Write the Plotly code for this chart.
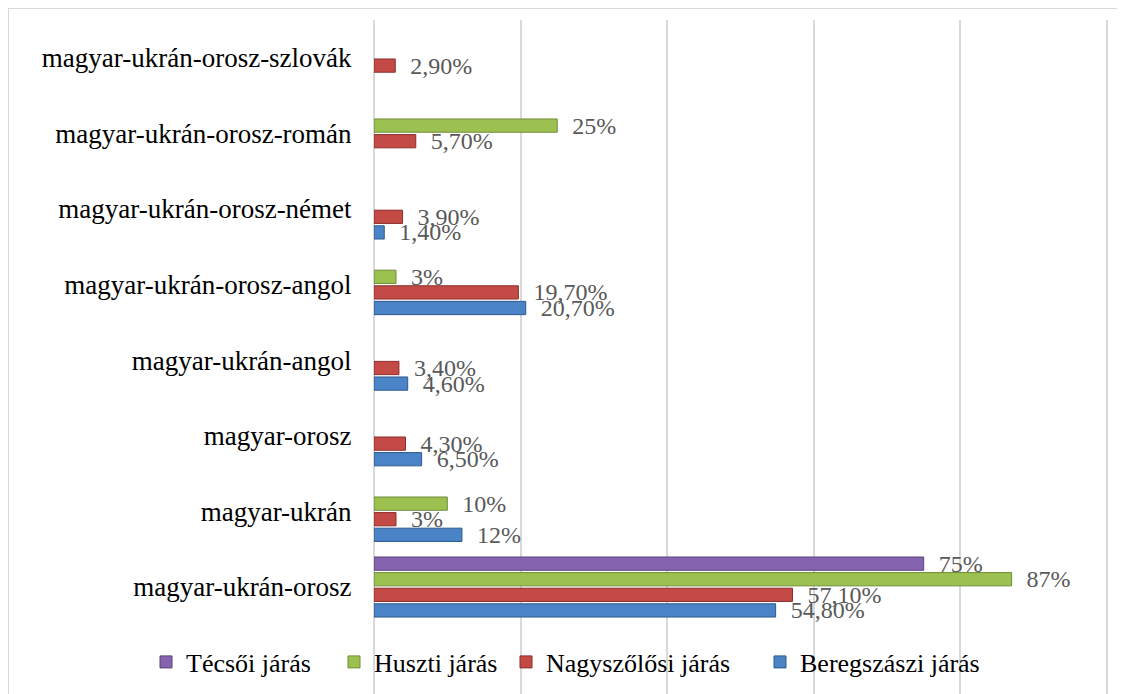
import plotly.graph_objects as go

# ---- data ----
categories = [
    "magyar-ukrán-orosz",
    "magyar-ukrán",
    "magyar-orosz",
    "magyar-ukrán-angol",
    "magyar-ukrán-orosz-angol",
    "magyar-ukrán-orosz-német",
    "magyar-ukrán-orosz-román",
    "magyar-ukrán-orosz-szlovák",
]
beregszaszi = [54.8, 12, 6.5, 4.6, 20.7, 1.4, None, None]
nagyszolosi = [57.1, 3, 4.3, 3.4, 19.7, 3.9, 5.7, 2.9]
huszti = [87, 10, None, None, 3, None, 25, None]
tecsoi = [75, None, None, None, None, None, None, None]

series_names = ["Beregszászi járás", "Nagyszőlősi járás", "Huszti járás", "Técsői járás"]
series_values = [beregszaszi, nagyszolosi, huszti, tecsoi]
series_colors = ["#4A83C6", "#C44A46", "#9DC150", "#8563AE"]
series_lines = ["#2c5a8f", "#8c2e2b", "#6f8c36", "#5a4378"]
series_legends = ["legend4", "legend3", "legend2", "legend"]


def fmt(v):
    if v is None:
        return ""
    if float(v).is_integer():
        return f"{int(v)}%"
    return f"{v:.2f}%".replace(".", ",")


FONT = "Liberation Serif, Times New Roman, serif"
PAD = "\u00a0\u00a0"

fig = go.Figure()
for name, vals, col, lc, lg in zip(series_names, series_values, series_colors,
                                   series_lines, series_legends):
    fig.add_trace(go.Bar(
        y=categories,
        x=vals,
        name=name,
        legend=lg,
        orientation="h",
        marker=dict(color=col, line=dict(color=lc, width=1)),
        text=[PAD + fmt(v) if v is not None else "" for v in vals],
        textposition="outside",
        textfont=dict(family=FONT, size=24, color="#595959"),
        constraintext="none",
        cliponaxis=False,
    ))

W, H = 1117, 686
ML, MR, MT, MB = 366, 17, 12, 0
pw, ph = W - ML - MR, H - MT - MB


def legend_at(text_x_px):
    return dict(
        orientation="h",
        xref="container",
        yref="container",
        x=(text_x_px - 8 - 40) / W,
        xanchor="left",
        y=1 - (662 - 8) / H,
        yanchor="middle",
        bgcolor="rgba(0,0,0,0)",
        font=dict(family=FONT, size=26, color="#000000"),
        itemwidth=30,
    )


fig.update_layout(
    width=W,
    height=H,
    margin=dict(l=ML, r=MR, t=MT, b=MB, autoexpand=False),
    paper_bgcolor="white",
    plot_bgcolor="white",
    barmode="group",
    bargap=0.175,
    bargroupgap=0.15,
    font=dict(family=FONT, size=27, color="#000000"),
    legend=legend_at(186),
    legend2=legend_at(374),
    legend3=legend_at(546),
    legend4=legend_at(800),
    xaxis=dict(
        range=[0, 100.15],
        dtick=20,
        showgrid=True,
        gridcolor="#d9d9d9",
        gridwidth=2,
        zeroline=True,
        zerolinecolor="#d9d9d9",
        zerolinewidth=2,
        showticklabels=False,
        showline=False,
        ticks="",
    ),
    yaxis=dict(
        type="category",
        categoryorder="array",
        categoryarray=categories,
        range=[-1.415, 7.5],
        showgrid=False,
        zeroline=False,
        showline=False,
        ticks="outside",
        ticklen=16,
        tickcolor="rgba(0,0,0,0)",
        tickfont=dict(family=FONT, size=27, color="#000000"),
    ),
    shapes=[
        dict(
            type="rect",
            xref="paper",
            yref="paper",
            x0=(0 - ML) / pw,
            x1=1.2,
            y0=-0.2,
            y1=(H - 0) / ph,
            line=dict(color="#d9d9d9", width=2),
            fillcolor="rgba(0,0,0,0)",
            layer="below",
        )
    ],
    showlegend=True,
)

fig.write_html("out.html")
